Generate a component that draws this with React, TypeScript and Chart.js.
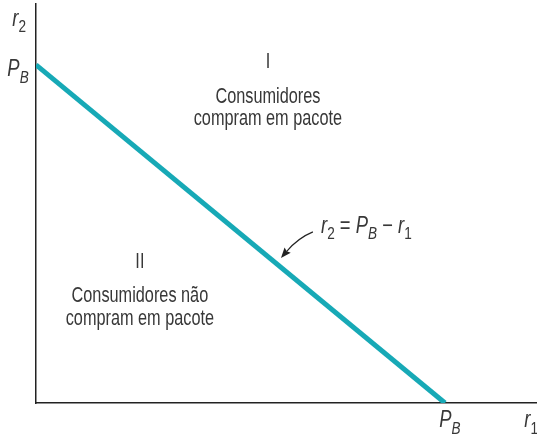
import React, { useEffect, useRef } from "react";
import { Chart, registerables } from "chart.js";

Chart.register(...registerables);

// ---- data ----
const PB = 1;
const r1Values = [0, PB];
const r2Values = [PB, 0];
const regionNames = ["I", "II"];
const regionI = ["Consumidores", "compram em pacote"];
const regionII = ["Consumidores não", "compram em pacote"];
const X_MAX = 1.225;
const Y_MAX = 1.18;

type Seg = { t: string; it?: boolean; sub?: boolean };

const FAMILY = '"Liberation Sans", Arial, sans-serif';
const TEXT_COLOR = "#383838";

function drawRich(
  ctx: CanvasRenderingContext2D,
  segs: Seg[],
  x: number,
  y: number,
  align: "left" | "center",
  size: number,
  sx = 0.74
) {
  const fontFor = (s: Seg) =>
    `${s.it ? "italic " : ""}${s.sub ? Math.round(size * 0.74) : size}px ${FAMILY}`;
  let w = 0;
  for (const s of segs) {
    ctx.font = fontFor(s);
    w += ctx.measureText(s.t).width;
  }
  ctx.save();
  ctx.translate(x, y);
  ctx.scale(sx, 1);
  ctx.fillStyle = TEXT_COLOR;
  ctx.textAlign = "left";
  ctx.textBaseline = "alphabetic";
  let cx = align === "center" ? -w / 2 : 0;
  for (const s of segs) {
    ctx.font = fontFor(s);
    ctx.fillText(s.t, cx, s.sub ? size * 0.27 : 0);
    cx += ctx.measureText(s.t).width;
  }
  ctx.restore();
}

const annotations = {
  id: "annotations",
  afterDraw(chart: any) {
    const ctx: CanvasRenderingContext2D = chart.ctx;
    const xs = chart.scales.x;
    const ys = chart.scales.y;
    const px = (v: number) => xs.getPixelForValue(v);
    const py = (v: number) => ys.getPixelForValue(v);
    const FS = 22;
    const LS = 23;

    // Region I
    drawRich(ctx, [{ t: regionNames[0] }], px(0.567), py(0.991), "center", FS);
    drawRich(ctx, [{ t: regionI[0] }], px(0.567), py(0.888), "center", FS);
    drawRich(ctx, [{ t: regionI[1] }], px(0.567), py(0.822), "center", FS);
    // Region II
    drawRich(ctx, [{ t: regionNames[1] }], px(0.254), py(0.399), "center", FS);
    drawRich(ctx, [{ t: regionII[0] }], px(0.254), py(0.299), "center", FS);
    drawRich(ctx, [{ t: regionII[1] }], px(0.254), py(0.231), "center", FS);

    // axis labels
    drawRich(ctx, [{ t: "r", it: true }, { t: "2", sub: true }], px(-0.058), py(1.115), "left", LS, 0.8);
    drawRich(ctx, [{ t: "P", it: true }, { t: "B", it: true, sub: true }], px(-0.07), py(0.966), "left", LS, 0.8);
    drawRich(ctx, [{ t: "P", it: true }, { t: "B", it: true, sub: true }], px(0.986), py(-0.072), "left", LS, 0.8);
    drawRich(ctx, [{ t: "r", it: true }, { t: "1", sub: true }], px(1.194), py(-0.072), "left", LS, 0.8);

    // equation
    drawRich(
      ctx,
      [
        { t: "r", it: true },
        { t: "2", sub: true },
        { t: " = " },
        { t: "P", it: true },
        { t: "B", it: true, sub: true },
        { t: " \u2212 " },
        { t: "r", it: true },
        { t: "1", sub: true },
      ],
      px(0.697),
      py(0.503),
      "left",
      LS,
      0.8
    );

    // arrow
    const sx = px(0.677), sy = py(0.506);
    const cx = px(0.641), cy = py(0.488);
    const tx = px(0.599), ty = py(0.429);
    ctx.save();
    ctx.strokeStyle = "#222";
    ctx.fillStyle = "#222";
    ctx.lineWidth = 1.2;
    const ang = Math.atan2(ty - cy, tx - cx);
    const hl = 11;
    const bx = tx - Math.cos(ang) * hl * 0.8;
    const by = ty - Math.sin(ang) * hl * 0.8;
    ctx.beginPath();
    ctx.moveTo(sx, sy);
    ctx.quadraticCurveTo(cx, cy, bx, by);
    ctx.stroke();
    ctx.beginPath();
    ctx.moveTo(tx, ty);
    ctx.lineTo(tx - Math.cos(ang - 0.38) * hl, ty - Math.sin(ang - 0.38) * hl);
    ctx.lineTo(bx, by);
    ctx.lineTo(tx - Math.cos(ang + 0.38) * hl, ty - Math.sin(ang + 0.38) * hl);
    ctx.closePath();
    ctx.fill();
    ctx.restore();
  },
};

export default function App() {
  const ref = useRef<HTMLCanvasElement>(null);
  useEffect(() => {
    if (!ref.current) return;
    const chart = new Chart(ref.current, {
      type: "line",
      data: {
        datasets: [
          {
            data: r1Values.map((x, i) => ({ x, y: r2Values[i] })),
            borderColor: "#17a9b6",
            borderWidth: 5,
            pointRadius: 0,
            fill: false,
            tension: 0,
            clip: 0,
          } as any,
        ],
      },
      options: {
        animation: false,
        responsive: false,
        devicePixelRatio: 1,
        layout: { padding: { left: 36, right: 0, top: 4, bottom: 37 } },
        plugins: { legend: { display: false }, tooltip: { enabled: false } },
        scales: {
          x: {
            type: "linear",
            min: 0,
            max: X_MAX,
            ticks: { display: false },
            grid: { display: false, drawTicks: false },
            border: { display: true, color: "#222", width: 1.5 },
          },
          y: {
            type: "linear",
            min: 0,
            max: Y_MAX,
            ticks: { display: false },
            grid: { display: false, drawTicks: false },
            border: { display: true, color: "#222", width: 1.5 },
          },
        },
      },
      plugins: [annotations],
    });
    return () => chart.destroy();
  }, []);
  return (
    <div style={{ position: "absolute", left: 0, top: 0, width: 537, height: 440, background: "#fff" }}>
      <canvas ref={ref} width={537} height={440} />
    </div>
  );
}
